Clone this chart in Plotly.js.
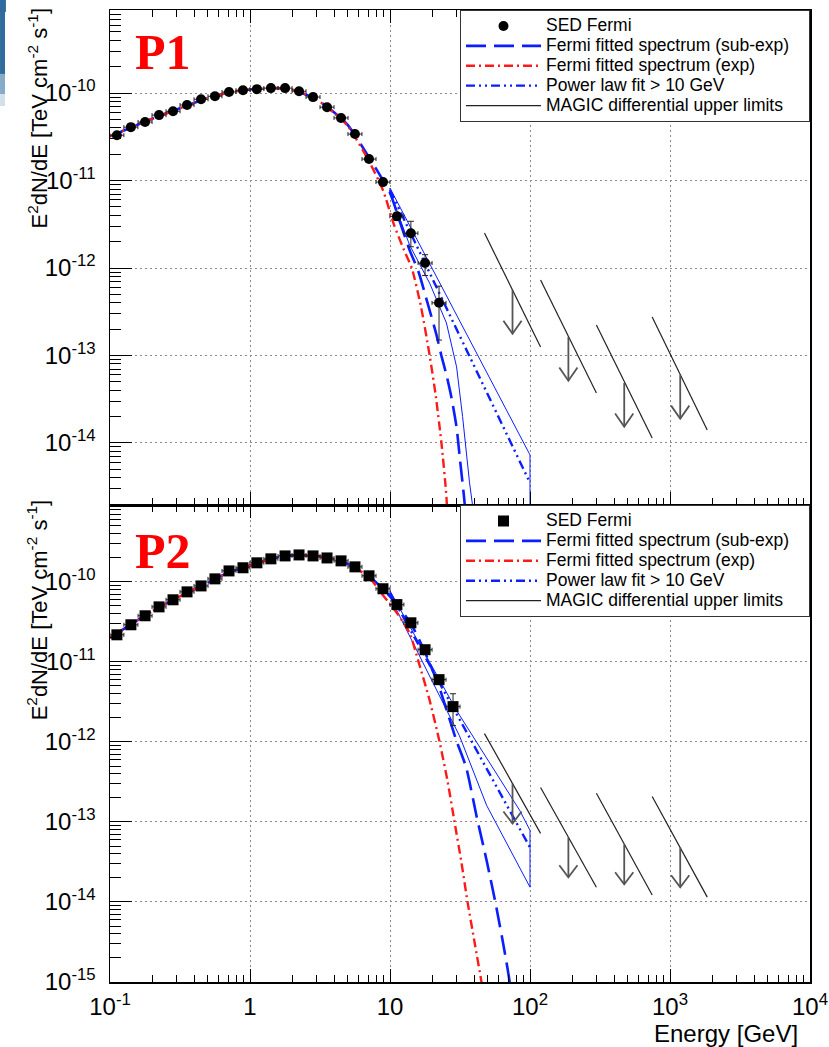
<!DOCTYPE html>
<html>
<head>
<meta charset="utf-8">
<script src="https://cdn.plot.ly/plotly-3.0.1.min.js"></script>
<style>
  html, body { margin: 0; padding: 0; background: #ffffff; }
  #chart { width: 829px; height: 1047px; }
</style>
</head>
<body>
<div id="chart"></div>
<script>
// ---------------- DATA ----------------
// Panel P1 : Fermi SED points
const E_P1 = [0.112, 0.141, 0.178, 0.224, 0.282, 0.355, 0.447, 0.562, 0.708, 0.891, 1.12, 1.41, 1.78, 2.24, 2.82, 3.55, 4.47, 5.62, 7.08, 8.91, 11.2, 14.1, 17.8, 22.4];
const F_P1 = [3.3e-11, 4.08e-11, 4.67e-11, 5.6e-11, 6.2e-11, 7.3e-11, 8.5e-11, 9.2e-11, 1.03e-10, 1.08e-10, 1.11e-10, 1.14e-10, 1.14e-10, 1.05e-10, 9.0e-11, 6.9e-11, 5.2e-11, 3.4e-11, 1.76e-11, 9.6e-12, 3.9e-12, 2.5e-12, 1.14e-12, 4.0e-13];
const ERRHI_P1 = [1.3e-12, 1.6e-12, 1.9e-12, 2.2e-12, 2.5e-12, 2.9e-12, 3.4e-12, 3.7e-12, 4.1e-12, 4.3e-12, 4.4e-12, 4.6e-12, 4.6e-12, 4.2e-12, 3.6e-12, 2.8e-12, 2.1e-12, 1.7e-12, 1.1e-12, 8e-13, 4e-13, 9.2e-13, 2.8e-13, 2.2e-13];
const ERRLO_P1 = [1.3e-12, 1.6e-12, 1.9e-12, 2.2e-12, 2.5e-12, 2.9e-12, 3.4e-12, 3.7e-12, 4.1e-12, 4.3e-12, 4.4e-12, 4.6e-12, 4.6e-12, 4.2e-12, 3.6e-12, 2.8e-12, 2.1e-12, 1.7e-12, 1.1e-12, 8e-13, 4e-13, 7.5e-13, 3.2e-13, 2.5e-13];

// Panel P1 : fitted spectra
const E_SUBEXP_P1 = [0.1, 0.2, 0.3, 0.5, 0.7, 1.0, 1.5, 2.0, 3.0, 4.0, 5.0, 7.0, 10, 11.9, 13.8, 16.0, 18.3, 21.5, 23.3, 25.3, 27.5, 29.9, 31.6, 33.8, 36.5];
const F_SUBEXP_P1 = [3.2e-11, 5.1e-11, 6.5e-11, 8.8e-11, 1.01e-10, 1.1e-10, 1.14e-10, 1.1e-10, 8.4e-11, 6.0e-11, 4.3e-11, 1.9e-11, 7.2e-12, 3.2e-12, 1.61e-12, 9.0e-13, 4.3e-13, 1.71e-13, 9.9e-14, 6.0e-14, 3.27e-14, 1.5e-14, 6.5e-15, 2.4e-15, 6e-16];
const E_EXP_P1 = [0.1, 0.2, 0.3, 0.5, 0.7, 1.0, 1.5, 2.0, 3.0, 4.0, 5.0, 6.9, 8.9, 10.7, 12.6, 14.3, 16.6, 19.2, 21.2, 23.3, 25.3, 26.3];
const F_EXP_P1 = [3.2e-11, 5.1e-11, 6.5e-11, 8.8e-11, 1.01e-10, 1.1e-10, 1.14e-10, 1.1e-10, 8.4e-11, 5.9e-11, 4.2e-11, 1.8e-11, 7.8e-12, 3.1e-12, 1.6e-12, 1.0e-12, 3.7e-13, 1.0e-13, 3.5e-14, 1.0e-14, 2.4e-15, 5e-16];
const E_PL_P1 = [10, 100];
const F_PL_P1 = [7.8e-12, 3.5e-15];
const E_BFUP_P1 = [10, 22.3, 35.5, 100];
const F_BFUP_P1 = [8.2e-12, 7.1e-13, 1.71e-13, 7.3e-15];
const E_BFLO_P1 = [10, 13.8, 19.2, 25.3, 29.9, 33.0, 37.0, 39.7];
const F_BFLO_P1 = [7.4e-12, 1.83e-12, 6.7e-13, 2.35e-13, 7.4e-14, 2.0e-14, 3.5e-15, 1.5e-15];

// MAGIC differential upper limits: energy bins (both panels)
const UL_E = [75, 188, 471, 1183];
const UL_ELO = [47.3, 119, 298, 746];
const UL_EHI = [119, 298, 746, 1845];
// Panel P1 : UL values
const UL_F_P1 = [5.6e-13, 1.63e-13, 4.85e-14, 5.98e-14];
const UL_FLO_P1 = [2.51e-12, 7.3e-13, 2.23e-13, 2.75e-13];
const UL_FHI_P1 = [1.25e-13, 3.72e-14, 1.14e-14, 1.41e-14];

// Panel P2 : Fermi SED points
const E_P2 = [0.112, 0.141, 0.178, 0.224, 0.282, 0.355, 0.447, 0.562, 0.708, 0.891, 1.12, 1.41, 1.78, 2.24, 2.82, 3.55, 4.47, 5.62, 7.08, 8.91, 11.2, 14.1, 17.8, 22.4, 28.2];
const F_P2 = [2.18e-11, 2.91e-11, 3.77e-11, 4.87e-11, 5.97e-11, 7.5e-11, 8.9e-11, 1.09e-10, 1.37e-10, 1.5e-10, 1.73e-10, 1.94e-10, 2.11e-10, 2.17e-10, 2.11e-10, 1.99e-10, 1.83e-10, 1.54e-10, 1.19e-10, 8.2e-11, 5.2e-11, 3.08e-11, 1.42e-11, 6.0e-12, 2.76e-12];
const ERRHI_P2 = [7e-13, 9e-13, 1.1e-12, 1.4e-12, 1.7e-12, 2.1e-12, 2.5e-12, 3.0e-12, 3.8e-12, 4.2e-12, 4.8e-12, 5.4e-12, 5.9e-12, 6.1e-12, 5.9e-12, 5.6e-12, 5.1e-12, 4.3e-12, 3.3e-12, 2.5e-12, 1.8e-12, 1.3e-12, 1.1e-12, 7.2e-13, 1.24e-12];
const ERRLO_P2 = [7e-13, 9e-13, 1.1e-12, 1.4e-12, 1.7e-12, 2.1e-12, 2.5e-12, 3.0e-12, 3.8e-12, 4.2e-12, 4.8e-12, 5.4e-12, 5.9e-12, 6.1e-12, 5.9e-12, 5.6e-12, 5.1e-12, 4.3e-12, 3.3e-12, 2.5e-12, 1.8e-12, 1.3e-12, 1.1e-12, 7.2e-13, 1.16e-12];

// Panel P2 : fitted spectra
const E_SUBEXP_P2 = [0.1, 0.2, 0.3, 0.5, 0.7, 1.0, 1.5, 2.0, 3.0, 4.0, 5.0, 7.0, 10, 14.1, 17.7, 22.3, 29.8, 35.0, 41.7, 49.0, 57.5, 65.6, 71.2, 75];
const F_SUBEXP_P2 = [2.0e-11, 4.3e-11, 6.3e-11, 9.8e-11, 1.3e-10, 1.6e-10, 2.0e-10, 2.14e-10, 2.1e-10, 1.9e-10, 1.68e-10, 1.2e-10, 6.6e-11, 3.0e-11, 1.34e-11, 5.0e-12, 1.04e-12, 4.8e-13, 1.14e-13, 3.3e-14, 8.6e-15, 2.5e-15, 1.06e-15, 5e-16];
const E_EXP_P2 = [0.1, 0.2, 0.3, 0.5, 0.7, 1.0, 1.5, 2.0, 3.0, 4.0, 5.0, 7.0, 8.85, 11.3, 13.8, 16.0, 19.2, 22.6, 25.8, 28.9, 32.4, 35.8, 40.1, 45.0, 47.0];
const F_EXP_P2 = [2.0e-11, 4.3e-11, 6.3e-11, 9.8e-11, 1.3e-10, 1.6e-10, 2.0e-10, 2.14e-10, 2.1e-10, 1.9e-10, 1.66e-10, 1.17e-10, 6.9e-11, 4.0e-11, 2.3e-11, 1.0e-11, 3.3e-12, 1.0e-12, 3.2e-13, 1.0e-13, 3.1e-14, 1.0e-14, 3.2e-15, 1.0e-15, 6e-16];
const E_PL_P2 = [10, 100];
const F_PL_P2 = [7.3e-11, 4.8e-14];
const E_BFUP_P2 = [10, 29.9, 84.3, 100];
const F_BFUP_P2 = [7.7e-11, 2.47e-12, 1.4e-13, 7.85e-14];
const E_BFLO_P2 = [10, 31.3, 49.0, 100];
const F_BFLO_P2 = [6.5e-11, 1.2e-12, 1.61e-13, 1.53e-14];

// Panel P2 : UL values
const UL_F_P2 = [3.03e-13, 6.43e-14, 5.26e-14, 4.82e-14];
const UL_FLO_P2 = [1.27e-12, 2.7e-13, 2.28e-13, 2.08e-13];
const UL_FHI_P2 = [7.2e-14, 1.53e-14, 1.22e-14, 1.15e-14];

// Tick labels
const X_TICKVALS = [0.1, 1, 10, 100, 1000, 10000];
const X_TICKTEXT = ['10<sup>-1</sup>', '1', '10', '10<sup>2</sup>', '10<sup>3</sup>', '10<sup>4</sup>'];
const Y1_TICKVALS = [1e-10, 1e-11, 1e-12, 1e-13, 1e-14];
const Y1_TICKTEXT = ['10<sup>-10</sup>', '10<sup>-11</sup>', '10<sup>-12</sup>', '10<sup>-13</sup>', '10<sup>-14</sup>'];
const Y2_TICKVALS = [1e-10, 1e-11, 1e-12, 1e-13, 1e-14, 1e-15];
const Y2_TICKTEXT = ['10<sup>-10</sup>', '10<sup>-11</sup>', '10<sup>-12</sup>', '10<sup>-13</sup>', '10<sup>-14</sup>', '10<sup>-15</sup>'];

const LEGEND_NAMES = ['SED Fermi', 'Fermi fitted spectrum (sub-exp)', 'Fermi fitted spectrum (exp)', 'Power law fit > 10 GeV', 'MAGIC differential upper limits'];

// ---------------- STYLE ----------------
const FONT = 'Liberation Sans, Arial, Helvetica, sans-serif';
const BLUE = '#0a1eff';
const RED = '#ff1a1a';
const BIN_HALF_DEC = 0.05;     // half-width of SED bins (decades)
const ARROW_DEC = 0.5;         // UL arrow length (decades)
const HEAD_DX = 0.065, HEAD_DY = 0.15;
const LEG_PAD = '\u00a0\u00a0\u00a0';
const LEG_TEXT = (s, pad) => '<span style="font-size:17.5px">' + s + (pad ? LEG_PAD : '') + '</span>';

function minorVals(lo, hi) {
  const v = [];
  for (let d = lo; d < hi; d++) for (let k = 2; k <= 9; k++) v.push(k * Math.pow(10, d));
  return v;
}

function sedTrace(E, F, eh, el, sym, xa, ya, leg) {
  return {
    type: 'scatter', mode: 'markers', x: E, y: F, xaxis: xa, yaxis: ya,
    name: LEG_TEXT(LEGEND_NAMES[0]), legend: leg, legendrank: 1,
    marker: { symbol: sym, size: sym === 'square' ? 11 : 10, color: '#000' },
    error_y: { type: 'data', symmetric: false, array: eh, arrayminus: el, color: '#222', thickness: 1, width: 3 },
    error_x: { type: 'data', symmetric: false,
      array: E.map(e => e * (Math.pow(10, BIN_HALF_DEC) - 1)),
      arrayminus: E.map(e => e * (1 - Math.pow(10, -BIN_HALF_DEC))),
      color: '#222', thickness: 1, width: 2 }
  };
}

function panelTraces(p) {
  const t = [];
  // butterfly (closed contour)
  t.push({
    type: 'scatter', mode: 'lines', xaxis: p.xa, yaxis: p.ya, showlegend: false, hoverinfo: 'skip',
    x: p.bfUpE.concat(p.bfLoE.slice().reverse(), [p.bfUpE[0]]),
    y: p.bfUpF.concat(p.bfLoF.slice().reverse(), [p.bfUpF[0]]),
    line: { color: BLUE, width: 1 }
  });
  t.push({ type: 'scatter', mode: 'lines', xaxis: p.xa, yaxis: p.ya, x: p.subE, y: p.subF,
    name: LEG_TEXT(LEGEND_NAMES[1], true), legend: p.leg, legendrank: 2,
    line: { color: BLUE, width: 2.6, dash: '20px,8px', shape: 'spline', smoothing: 0.6 } });
  t.push({ type: 'scatter', mode: 'lines', xaxis: p.xa, yaxis: p.ya, x: p.expE, y: p.expF,
    name: LEG_TEXT(LEGEND_NAMES[2]), legend: p.leg, legendrank: 3,
    line: { color: RED, width: 2.4, dash: '9px,4px,2px,4px', shape: 'spline', smoothing: 0.6 } });
  t.push({ type: 'scatter', mode: 'lines', xaxis: p.xa, yaxis: p.ya, x: p.plE, y: p.plF,
    name: LEG_TEXT(LEGEND_NAMES[3]), legend: p.leg, legendrank: 4,
    line: { color: BLUE, width: 2.4, dash: '9px,4px,2px,4px,2px,4px' } });
  // UL lines, arrows and arrow heads
  const lx = [], ly = [], ax = [], ay = [], hx = [], hy = [];
  for (let i = 0; i < UL_E.length; i++) {
    lx.push(UL_ELO[i], UL_EHI[i], null); ly.push(p.ulLo[i], p.ulHi[i], null);
    const tip = p.ulF[i] / Math.pow(10, ARROW_DEC);
    ax.push(UL_E[i], UL_E[i], null); ay.push(p.ulF[i], tip, null);
    hx.push(UL_E[i] * Math.pow(10, -HEAD_DX), UL_E[i], UL_E[i] * Math.pow(10, HEAD_DX), null);
    hy.push(tip * Math.pow(10, HEAD_DY), tip, tip * Math.pow(10, HEAD_DY), null);
  }
  t.push({ type: 'scatter', mode: 'lines', xaxis: p.xa, yaxis: p.ya, x: lx, y: ly,
    name: LEG_TEXT(LEGEND_NAMES[4]), legend: p.leg, legendrank: 5, line: { color: '#222', width: 1.2 } });
  t.push({ type: 'scatter', mode: 'lines', xaxis: p.xa, yaxis: p.ya, x: ax.concat(hx), y: ay.concat(hy),
    showlegend: false, line: { color: '#555', width: 1.8 } });
  t.push(sedTrace(p.E, p.F, p.eh, p.el, p.sym, p.xa, p.ya, p.leg));
  return t;
}

const data = [].concat(
  panelTraces({ xa: 'x', ya: 'y', leg: 'legend', E: E_P1, F: F_P1, eh: ERRHI_P1, el: ERRLO_P1, sym: 'circle',
    subE: E_SUBEXP_P1, subF: F_SUBEXP_P1, expE: E_EXP_P1, expF: F_EXP_P1, plE: E_PL_P1, plF: F_PL_P1,
    bfUpE: E_BFUP_P1.concat([100]), bfUpF: F_BFUP_P1.concat([1e-16]), bfLoE: E_BFLO_P1, bfLoF: F_BFLO_P1,
    ulF: UL_F_P1, ulLo: UL_FLO_P1, ulHi: UL_FHI_P1 }),
  panelTraces({ xa: 'x2', ya: 'y2', leg: 'legend2', E: E_P2, F: F_P2, eh: ERRHI_P2, el: ERRLO_P2, sym: 'square',
    subE: E_SUBEXP_P2, subF: F_SUBEXP_P2, expE: E_EXP_P2, expF: F_EXP_P2, plE: E_PL_P2, plF: F_PL_P2,
    bfUpE: E_BFUP_P2, bfUpF: F_BFUP_P2, bfLoE: E_BFLO_P2, bfLoF: F_BFLO_P2,
    ulF: UL_F_P2, ulLo: UL_FLO_P2, ulHi: UL_FHI_P2 })
);

const SPLIT = 0.4907;
function xaxisDef(anchor, labels) {
  return {
    type: 'log', range: [-1, 4], anchor: anchor, domain: [0, 1],
    tickmode: 'array', tickvals: X_TICKVALS, ticktext: X_TICKTEXT, showticklabels: labels,
    ticks: 'inside', ticklen: 13, tickwidth: 1, tickcolor: '#000',
    minor: { tickmode: 'array', tickvals: minorVals(-1, 4), ticks: 'inside', ticklen: 7, tickwidth: 1, tickcolor: '#000', showgrid: false },
    showline: true, linecolor: '#000', linewidth: 1.5, mirror: 'ticks',
    showgrid: true, gridcolor: '#8a8a8a', gridwidth: 1, griddash: '2px,3px',
    tickfont: { family: FONT, size: 24, color: '#000' }, ticklabelstandoff: 3,
    zeroline: false
  };
}
function yaxisDef(dom, range, tv, tt, lo, hi) {
  return {
    type: 'log', range: range, domain: dom,
    tickmode: 'array', tickvals: tv, ticktext: tt,
    ticks: 'inside', ticklen: 22, tickwidth: 1, tickcolor: '#000',
    minor: { tickmode: 'array', tickvals: minorVals(lo, hi), ticks: 'inside', ticklen: 11, tickwidth: 1, tickcolor: '#000', showgrid: false },
    showline: true, linecolor: '#000', linewidth: 1.5, mirror: true,
    showgrid: true, gridcolor: '#8a8a8a', gridwidth: 1, griddash: '2px,3px',
    tickfont: { family: FONT, size: 24, color: '#000' }, ticklabelstandoff: 8,
    zeroline: false
  };
}
const legendDef = (y) => ({
  x: 1, xanchor: 'right', y: y, yanchor: 'top', xref: 'paper', yref: 'paper',
  bgcolor: '#fff', bordercolor: '#333', borderwidth: 1,
  font: { family: FONT, size: 13, color: '#000' }, itemwidth: 75, tracegroupgap: 0,
  traceorder: 'normal'
});

const YTITLE = 'E<sup>2</sup>dN/dE [TeV cm<sup>-2</sup> s<sup>-1</sup>]';
const layout = {
  width: 829, height: 1047,
  margin: { l: 110, r: 19, t: 10, b: 65 },
  paper_bgcolor: '#fff', plot_bgcolor: '#fff',
  font: { family: FONT, color: '#000' },
  showlegend: true,
  xaxis: xaxisDef('y', false),
  yaxis: yaxisDef([SPLIT, 1], [-14.71, -9.05], Y1_TICKVALS, Y1_TICKTEXT, -15, -9),
  xaxis2: xaxisDef('y2', true),
  yaxis2: yaxisDef([0, SPLIT], [-15, -9.04], Y2_TICKVALS, Y2_TICKTEXT, -15, -9),
  legend: legendDef(1),
  legend2: legendDef(SPLIT),
  annotations: [
    { xref: 'paper', yref: 'paper', x: 0.033, y: 0.9568, xanchor: 'left', yanchor: 'middle', showarrow: false,
      text: '<b>P1</b>', font: { family: 'Liberation Serif, DejaVu Serif, serif', size: 50, color: '#ff0000' } },
    { xref: 'paper', yref: 'paper', x: 0.033, y: 0.4434, xanchor: 'left', yanchor: 'middle', showarrow: false,
      text: '<b>P2</b>', font: { family: 'Liberation Serif, DejaVu Serif, serif', size: 50, color: '#ff0000' } },
    { xref: 'paper', yref: 'paper', x: -0.103, y: 1.005, xanchor: 'center', yanchor: 'top', showarrow: false,
      textangle: -90, text: YTITLE, font: { family: FONT, size: 22, color: '#000' } },
    { xref: 'paper', yref: 'paper', x: -0.103, y: 0.499, xanchor: 'center', yanchor: 'top', showarrow: false,
      textangle: -90, text: YTITLE, font: { family: FONT, size: 22, color: '#000' } },
    { xref: 'paper', yref: 'paper', x: 0.9857, y: -0.0525, xanchor: 'right', yanchor: 'middle', showarrow: false,
      text: 'Energy [GeV]', font: { family: FONT, size: 24, color: '#000' } }
  ],
  // slide-background remnant at the left edge (blue block with fading bottom)
  shapes: [
    { type: 'rect', xref: 'paper', yref: 'paper', x0: -0.1571, x1: -0.1486, y0: 0.998, y1: 1.0103, fillcolor: '#3f75a3', line: { width: 0 } },
    { type: 'rect', xref: 'paper', yref: 'paper', x0: -0.1571, x1: -0.1500, y0: 0.9342, y1: 1.0176, fillcolor: '#2f6b9c', line: { width: 0 } },
    { type: 'rect', xref: 'paper', yref: 'paper', x0: -0.1571, x1: -0.1500, y0: 0.9136, y1: 0.9342, fillcolor: '#86abc9', line: { width: 0 } },
    { type: 'rect', xref: 'paper', yref: 'paper', x0: -0.1571, x1: -0.1500, y0: 0.9012, y1: 0.9136, fillcolor: '#d2e0eb', line: { width: 0 } }
  ]
};

Plotly.newPlot('chart', data, layout, { displayModeBar: false, staticPlot: true });
</script>
</body>
</html>
